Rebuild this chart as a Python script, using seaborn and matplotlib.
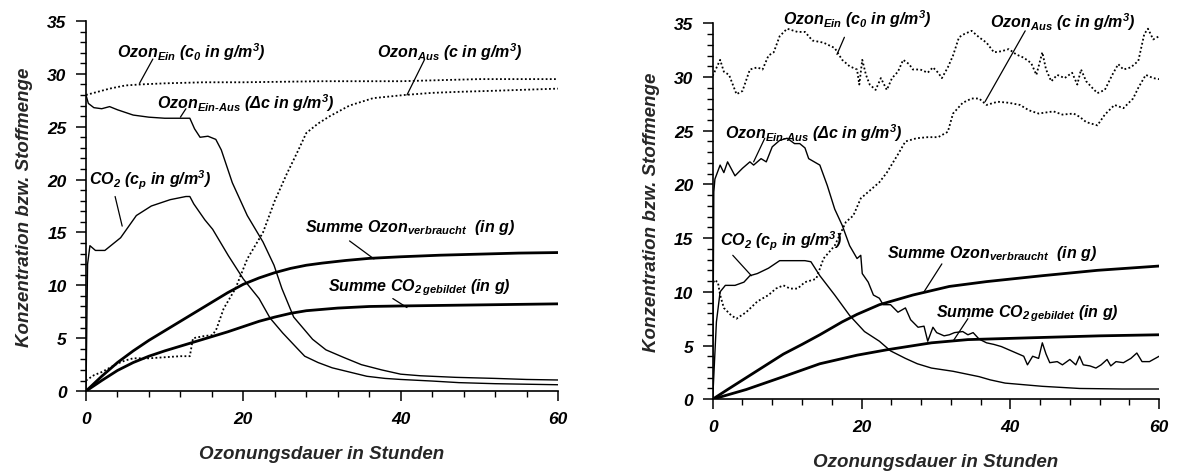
import matplotlib
matplotlib.use("Agg")
import matplotlib.pyplot as plt
from matplotlib.ticker import MultipleLocator
import seaborn as sns

# ---------------- left run ----------------
ein_l_t = [0, 1, 3, 5, 7, 10, 15, 20, 30, 40, 45, 50, 55, 60]
ein_l = [28.0, 28.2, 28.6, 28.9, 29.0, 29.1, 29.2, 29.2, 29.3, 29.3, 29.4, 29.5, 29.5, 29.5]

aus_l_t = [0, 1, 2, 3, 4, 5, 6, 8, 10, 12, 13.2, 13.6, 15, 16.1, 16.6, 17.5, 19, 20.5,
           22.5, 24, 25.5, 27, 28, 29.5, 31, 33.5, 36.5, 40.5, 44, 47.5, 52, 56, 60]
aus_l = [1.0, 1.5, 1.8, 2.2, 2.6, 2.9, 3.1, 3.1, 3.2, 3.3, 3.3, 5.0, 5.2, 5.3, 5.9, 7.8,
         9.7, 12.5, 15.0, 18.0, 20.5, 22.8, 24.4, 25.3, 26.0, 27.0, 27.7, 28.0, 28.2,
         28.3, 28.4, 28.5, 28.6]

diff_l_t = [0, 0.3, 1, 2, 3, 4, 6, 8, 10, 13.2, 13.8, 14.5, 15.5, 16.5, 17.2, 18.6, 20.5,
            22.5, 23.9, 24.9, 26.4, 28.8, 30.5, 32.7, 35, 37.6, 40, 42.5, 47, 52, 56, 60]
diff_l = [28.0, 27.2, 26.8, 26.7, 26.9, 26.6, 26.1, 25.9, 25.8, 25.8, 24.8, 24.0, 24.1,
          23.8, 22.8, 19.7, 16.6, 14.1, 11.9, 9.7, 7.0, 4.9, 3.9, 3.2, 2.5, 2.0, 1.6,
          1.45, 1.3, 1.2, 1.1, 1.05]

co2_l_t = [0, 0.2, 0.5, 1.2, 2.4, 4.4, 6.4, 8.3, 10.7, 12.7, 13.2, 13.7, 15.1, 16.1, 18.1,
           20, 22, 23.4, 25, 26.9, 27.8, 29.5, 31.3, 33.5, 35.7, 38, 40, 44, 47.4, 52, 56, 60]
co2_l = [0, 12.0, 13.75, 13.3, 13.3, 14.5, 16.6, 17.5, 18.1, 18.4, 18.4, 17.7, 16.2, 15.3,
         12.8, 10.6, 8.75, 6.9, 5.5, 4.0, 3.3, 2.7, 2.2, 1.8, 1.4, 1.2, 1.1, 0.95, 0.8,
         0.7, 0.65, 0.6]

sum_o3_l_t = [0, 2, 4, 6, 8, 10, 12, 14, 16, 18, 20, 22, 24, 26, 28, 30, 33, 36, 40, 45,
              50, 55, 60]
sum_o3_l = [0, 1.4, 2.7, 3.8, 4.8, 5.7, 6.6, 7.5, 8.4, 9.3, 10.1, 10.7, 11.2, 11.6, 11.9,
            12.1, 12.35, 12.55, 12.7, 12.85, 12.95, 13.05, 13.1]

sum_co2_l_t = [0, 2, 4, 6, 8, 10, 12, 14, 16, 18, 20, 22, 24, 26, 28, 32, 36, 40, 45, 50,
               55, 60]
sum_co2_l = [0, 1.0, 1.95, 2.7, 3.3, 3.8, 4.25, 4.7, 5.15, 5.6, 6.1, 6.6, 7.0, 7.35, 7.6,
             7.85, 8.0, 8.05, 8.1, 8.15, 8.2, 8.25]

# ---------------- right run ----------------
ein_r_t = [0, 1, 1.5, 2.2, 3.2, 4, 5, 6, 6.7, 7.5, 8.2, 9, 10, 11.4, 12.4, 13.4, 14.9, 16.4,
           17.4, 18.4, 19.4, 19.7, 20.1, 20.6, 21.1, 21.9, 22.6, 23.4, 24.1, 24.9, 25.6,
           26.4, 26.9, 27.9, 28.9, 29.6, 30.3, 30.8, 31.6, 32.3, 33.1, 33.8, 34.8, 35.8,
           36.8, 37.8, 38.8, 39.8, 40.8, 41.8, 42.8, 43.5, 44.3, 44.8, 45.5, 46.3, 47.3,
           48.3, 49, 49.5, 50.2, 51, 51.7, 52.7, 53.7, 54.5, 55.2, 56.2, 57.2, 58, 58.5,
           59.2, 60]
ein_r = [30.1, 31.6, 30.5, 30.2, 28.4, 28.7, 30.7, 30.9, 30.7, 32.0, 32.3, 33.8, 34.5,
         34.2, 34.2, 33.4, 33.2, 32.7, 31.6, 31.0, 30.7, 29.3, 31.6, 30.2, 29.3, 28.8,
         29.9, 28.8, 29.9, 30.5, 31.6, 31.2, 30.7, 30.7, 30.4, 30.9, 30.4, 29.9, 30.9,
         32.0, 33.7, 34.0, 34.3, 33.7, 33.2, 32.3, 32.4, 32.6, 32.1, 31.8, 31.3, 30.2,
         32.3, 30.7, 29.6, 30.2, 29.9, 30.4, 29.3, 30.7, 29.6, 29.0, 28.5, 28.8, 30.2,
         31.2, 30.7, 30.9, 31.5, 34.0, 34.5, 33.5, 33.8]

aus_r_t = [0, 0.2, 0.7, 1, 1.5, 2.5, 3.2, 4.5, 6, 7.5, 8.5, 9.5, 10.4, 11.4, 12.4, 13.9,
           14.9, 16.4, 17.9, 18.9, 19.9, 20.9, 22.4, 23.4, 24.9, 25.9, 27.4, 28.9, 30.3,
           31.6, 32.3, 33.6, 34.8, 35.8, 36.8, 38.3, 39.8, 41.3, 42.5, 43.8, 45.8, 47,
           48.5, 49.3, 50.2, 51.7, 52.7, 54, 55.2, 56.5, 57.2, 58.2, 59.2, 60]
aus_r = [10.5, 11.1, 10.9, 9.7, 8.5, 7.8, 7.5, 8.1, 9.1, 9.7, 10.3, 10.6, 10.3, 10.3,
         10.9, 11.2, 13.1, 14.3, 16.5, 17.1, 18.7, 19.3, 20.2, 21.1, 22.8, 24.0, 24.3,
         24.4, 24.4, 24.9, 26.6, 27.6, 28.0, 28.0, 27.4, 27.7, 27.6, 27.4, 26.9, 26.6,
         26.8, 26.5, 26.6, 26.3, 25.8, 25.5, 26.5, 27.4, 27.1, 28.0, 29.0, 30.2, 29.9, 29.8]

diff_r_t = [0, 0.15, 0.3, 1, 1.5, 2, 3, 4, 5, 5.5, 6.5, 7.2, 8, 9, 10, 11, 11.7, 12.4,
            12.9, 13.4, 14.4, 15.4, 16.4, 17.4, 18.4, 19.4, 19.9, 20.1, 20.9, 21.6, 22.4,
            22.9, 23.9, 24.9, 25.9, 26.6, 27.6, 28.4, 28.9, 29.6, 30.1, 31.1, 31.8, 32.5,
            33.6, 34.3, 35, 35.8, 36.8, 37.8, 38.8, 39.8, 40.8, 41.8, 42.3, 43, 43.8,
            44.3, 44.8, 45.3, 46.3, 47, 48, 48.8, 49.3, 49.8, 50.7, 51.5, 52.2, 53, 53.5,
            54.2, 55.2, 56.2, 57, 57.7, 58.7, 60]
diff_r = [0, 19.3, 20.5, 21.8, 21.1, 22.1, 20.8, 21.5, 22.1, 21.8, 22.4, 22.1, 23.5, 24.1,
          24.3, 23.8, 23.8, 23.4, 22.4, 22.2, 21.8, 19.9, 17.7, 16.2, 14.3, 13.1, 13.4,
          11.7, 10.9, 9.7, 9.4, 8.8, 8.8, 8.1, 8.5, 7.4, 6.7, 6.8, 5.4, 6.7, 6.2, 5.9,
          6.0, 6.2, 6.3, 6.0, 6.2, 5.6, 5.25, 5.1, 4.9, 4.6, 4.3, 4.0, 3.2, 4.0, 3.8,
          5.25, 4.2, 3.4, 3.5, 3.2, 3.7, 3.2, 4.0, 3.2, 3.1, 2.9, 3.2, 3.7, 3.1, 3.5,
          3.4, 3.8, 4.3, 3.5, 3.5, 4.0]

co2_r_t = [0, 0.5, 1, 1.7, 3, 4.2, 5, 6, 7.5, 9, 10, 12.4, 13.2, 14.4, 16.4, 18.4, 20.4,
           22.4, 23.9, 25.9, 27.5, 29.4, 32.3, 35.8, 37.3, 39.3, 44.3, 49.3, 55, 60]
co2_r = [0, 7.2, 10.0, 10.6, 10.6, 10.9, 11.5, 11.7, 12.2, 12.9, 12.9, 12.9, 12.8, 11.5,
         9.7, 7.8, 6.3, 5.4, 4.5, 3.8, 3.3, 2.9, 2.6, 2.1, 1.8, 1.5, 1.2, 1.0, 0.95, 0.95]

sum_o3_r_t = [0, 2, 4.5, 7, 9.5, 12, 14.4, 16.4, 17.4, 19.4, 22.4, 26.9, 31.8, 36.8, 44.3,
              51.7, 60]
sum_o3_r = [0, 0.9, 2.0, 3.1, 4.2, 5.1, 6.0, 6.8, 7.2, 7.9, 8.8, 9.7, 10.5, 10.95, 11.5,
            12.0, 12.4]

sum_co2_r_t = [0, 4.5, 9.5, 14.4, 19.4, 23.4, 29.4, 34.3, 44.3, 52, 60]
sum_co2_r = [0, 0.9, 2.1, 3.3, 4.1, 4.6, 5.25, 5.55, 5.75, 5.9, 6.0]

x_ticks = [0, 20, 40, 60]
y_ticks = [0, 5, 10, 15, 20, 25, 30, 35]

lbl_ein = "Ozon$_{Ein}$ (c$_0$ in g/m$^3$)"
lbl_aus = "Ozon$_{Aus}$ (c in g/m$^3$)"
lbl_diff = "Ozon$_{Ein\u2010Aus}$ (\u0394c in g/m$^3$)"
lbl_co2 = "CO$_2$ (c$_p$ in g/m$^3$)"
lbl_sum_o3 = "Summe Ozon$_{verbraucht}$  (in g)"
lbl_sum_co2 = "Summe CO$_{2\\,gebildet}$ (in g)"
x_title = "Ozonungsdauer in Stunden"
y_title = "Konzentration bzw. Stoffmenge"

sns.set_theme(style="ticks")
plt.rcParams["font.family"] = ["Liberation Sans", "DejaVu Sans"]
plt.rcParams.update({
    "mathtext.fontset": "custom",
    "mathtext.rm": "Liberation Sans:italic:bold",
    "mathtext.it": "Liberation Sans:italic:bold",
    "mathtext.bf": "Liberation Sans:italic:bold",
    "mathtext.sf": "Liberation Sans:italic:bold",
    "mathtext.default": "it",
    "axes.linewidth": 1.2,
})

fig = plt.figure(figsize=(11.78, 4.77), dpi=100)
ax_l = fig.add_axes([0.073, 0.178, 0.4007, 0.776])
ax_r = fig.add_axes([0.605, 0.161, 0.379, 0.788])

DOT = (0, (1.0, 1.3))
TXT = dict(fontsize=11.5, fontweight="bold", fontstyle="italic", color="black")


def curve(ax, t, v, style="-", lw=1.0):
    sns.lineplot(x=t, y=v, ax=ax, color="black", linewidth=lw, linestyle=style,
                 estimator=None, sort=False, legend=False)


def pointer(ax, xy, xytext):
    ax.annotate("", xy=xy, xytext=xytext,
                arrowprops=dict(arrowstyle="-", lw=0.9, color="black",
                                shrinkA=0, shrinkB=0))


def style_axes(ax):
    ax.set_xlim(0, 60)
    ax.set_ylim(0, 35)
    ax.set_xticks(x_ticks)
    ax.set_yticks(y_ticks)
    ax.xaxis.set_minor_locator(MultipleLocator(4))
    ax.yaxis.set_minor_locator(MultipleLocator(1))
    ax.tick_params(which="major", direction="out", length=7, width=1.1,
                   labelsize=12.5, colors="black", pad=7)
    ax.tick_params(which="minor", direction="out", length=4, width=1.0, colors="black")
    for lab in ax.get_xticklabels() + ax.get_yticklabels():
        lab.set_fontweight("bold")
        lab.set_fontstyle("italic")
    sns.despine(ax=ax)
    ax.spines["left"].set_color("black")
    ax.spines["bottom"].set_color("black")
    ax.set_xlabel(x_title, fontsize=13.5, fontweight="bold", fontstyle="italic",
                  labelpad=14)
    ax.set_ylabel(y_title, fontsize=13.5, fontweight="bold", fontstyle="italic",
                  labelpad=10)
    ax.set_facecolor("white")


# left panel
curve(ax_l, ein_l_t, ein_l, DOT, 1.3)
curve(ax_l, aus_l_t, aus_l, DOT, 1.3)
curve(ax_l, diff_l_t, diff_l, "-", 1.0)
curve(ax_l, co2_l_t, co2_l, "-", 1.0)
curve(ax_l, sum_o3_l_t, sum_o3_l, "-", 2.0)
curve(ax_l, sum_co2_l_t, sum_co2_l, "-", 2.0)
style_axes(ax_l)

ax_l.text(4.0, 31.6, lbl_ein, **TXT)
pointer(ax_l, (6.8, 29.1), (8.5, 31.4))
ax_l.text(37.0, 31.6, lbl_aus, **TXT)
pointer(ax_l, (40.8, 28.0), (43.0, 31.3))
ax_l.text(9.0, 26.8, lbl_diff, **TXT)
pointer(ax_l, (12.0, 25.9), (12.7, 26.7))
ax_l.text(0.4, 19.6, lbl_co2, **TXT)
pointer(ax_l, (4.6, 15.6), (3.7, 18.4))
ax_l.text(27.8, 15.1, lbl_sum_o3, **TXT)
pointer(ax_l, (36.6, 12.5), (33.5, 14.2))
ax_l.text(30.8, 9.5, lbl_sum_co2, **TXT)
pointer(ax_l, (40.8, 7.9), (39.0, 8.75))

# right panel
curve(ax_r, ein_r_t, ein_r, DOT, 1.3)
curve(ax_r, aus_r_t, aus_r, DOT, 1.3)
curve(ax_r, diff_r_t, diff_r, "-", 1.0)
curve(ax_r, co2_r_t, co2_r, "-", 1.0)
curve(ax_r, sum_o3_r_t, sum_o3_r, "-", 2.0)
curve(ax_r, sum_co2_r_t, sum_co2_r, "-", 2.0)
style_axes(ax_r)

ax_r.text(9.5, 34.9, lbl_ein, **TXT)
pointer(ax_r, (16.7, 32.1), (17.7, 33.7))
ax_r.text(37.3, 34.7, lbl_aus, **TXT)
pointer(ax_r, (36.6, 27.7), (42.0, 34.3))
ax_r.text(1.7, 24.3, lbl_diff, **TXT)
pointer(ax_r, (5.5, 22.1), (7.0, 24.3))
ax_r.text(1.0, 14.3, lbl_co2, **TXT)
pointer(ax_r, (5.2, 11.5), (2.7, 13.4))
ax_r.text(23.4, 13.2, lbl_sum_o3, **TXT)
pointer(ax_r, (28.4, 10.0), (30.8, 12.6))
ax_r.text(30.0, 7.7, lbl_sum_co2, **TXT)
pointer(ax_r, (32.3, 5.4), (34.3, 7.5))

fig.savefig("out.png", dpi=100, facecolor="white")
